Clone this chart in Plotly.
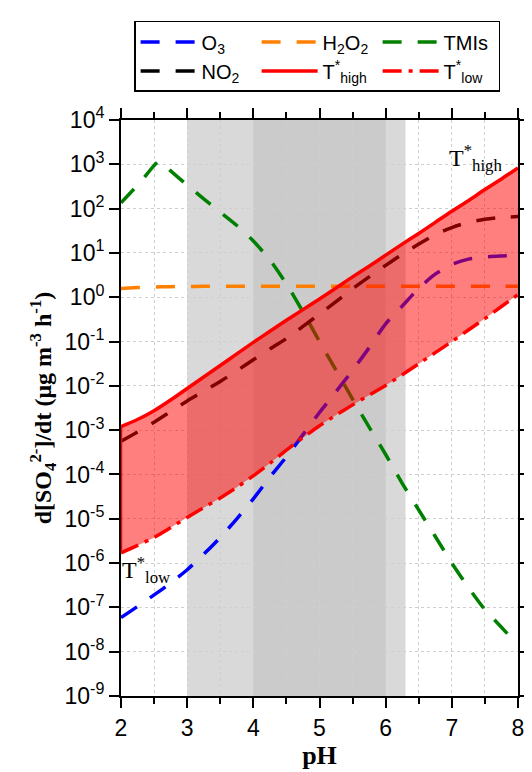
import plotly.graph_objects as go

ph = [2.0, 2.25, 2.5, 2.75, 3.0, 3.25, 3.5, 3.75, 4.0, 4.25, 4.5, 4.75, 5.0,
      5.25, 5.5, 5.75, 6.0, 6.25, 6.5, 6.75, 7.0, 7.25, 7.5, 7.75, 8.0]

o3 = [5.89e-8, 1.05e-7, 1.91e-7, 3.55e-7, 7.08e-7, 1.58e-6, 3.80e-6, 1.0e-5,
      2.82e-5, 8.71e-5, 2.51e-4, 7.94e-4, 2.51e-3, 7.41e-3, 2.24e-2, 7.24e-2,
      0.251, 0.631, 1.58, 3.31, 5.50, 7.24, 8.13, 8.51, 8.71]

h2o2 = [1.58, 1.65, 1.70, 1.73, 1.75, 1.76, 1.77, 1.77, 1.78, 1.78, 1.78, 1.78, 1.78,
        1.78, 1.78, 1.78, 1.78, 1.78, 1.78, 1.78, 1.78, 1.78, 1.78, 1.78, 1.78]

ph_tmi = [2.0, 2.3, 2.58, 2.75, 3.0, 3.25, 3.5, 3.75, 4.0, 4.25, 4.5, 4.75, 5.0,
          5.25, 5.5, 5.75, 6.0, 6.25, 6.5, 6.75, 7.0, 7.25, 7.5, 7.75, 8.0]
tmis = [135, 407, 1175, 708, 339, 166, 83.2, 41.7, 18.6, 6.92, 2.0, 0.468, 0.1,
        0.0224, 5.01e-3, 1.17e-3, 2.82e-4, 6.31e-5, 1.58e-5, 3.98e-6, 1.0e-6,
        2.82e-7, 8.91e-8, 3.55e-8, 1.41e-8]

no2 = [5.62e-4, 9.12e-4, 1.51e-3, 2.63e-3, 4.57e-3, 7.59e-3, 1.26e-2, 2.19e-2,
       3.89e-2, 6.76e-2, 0.117, 0.219, 0.417, 0.794, 1.55, 2.88, 5.25, 9.33,
       15.8, 25.7, 37.2, 49.0, 57.5, 63.1, 66.1]

t_high = [1.20e-3, 1.74e-3, 2.75e-3, 4.79e-3, 8.71e-3, 1.58e-2, 2.88e-2, 5.25e-2,
          9.55e-2, 0.170, 0.302, 0.525, 0.912, 1.62, 2.88, 5.01, 8.91, 15.8, 27.5,
          49.0, 87.1, 151, 269, 468, 832]

t_low = [1.70e-6, 2.51e-6, 3.80e-6, 6.31e-6, 1.07e-5, 1.78e-5, 2.95e-5, 5.13e-5,
         9.33e-5, 1.78e-4, 3.55e-4, 6.76e-4, 1.26e-3, 2.19e-3, 3.72e-3, 6.17e-3,
         1.02e-2, 1.78e-2, 3.16e-2, 5.62e-2, 0.1, 0.182, 0.331, 0.617, 1.15]

y_exps = list(range(-9, 5))
y_tickvals = [10.0 ** e for e in y_exps]
y_ticktext = ["10<sup>%d</sup>" % e for e in y_exps]

DASH = "19px,16px"
LW = 3.5
SM = 0.8

fig = go.Figure()
fig.add_trace(go.Scatter(x=ph, y=o3, mode="lines", name="O<sub>3</sub>",
                         line=dict(color="#0000FF", width=LW, dash=DASH, shape="spline", smoothing=SM)))
fig.add_trace(go.Scatter(x=ph, y=h2o2, mode="lines", name="H<sub>2</sub>O<sub>2</sub>",
                         line=dict(color="#FF8000", width=LW, dash=DASH, shape="spline", smoothing=SM)))
fig.add_trace(go.Scatter(x=ph_tmi, y=tmis, mode="lines", name="TMIs",
                         line=dict(color="#008000", width=LW, dash=DASH, shape="spline", smoothing=0.6)))
fig.add_trace(go.Scatter(x=ph, y=no2, mode="lines", name="NO<sub>2</sub>",
                         line=dict(color="#000000", width=LW, dash=DASH, shape="spline", smoothing=SM)))
# fill between T_low and T_high (drawn over the lines)
fig.add_trace(go.Scatter(x=ph, y=t_low, mode="lines", showlegend=False,
                         line=dict(color="rgba(0,0,0,0)", width=0, shape="spline", smoothing=SM),
                         hoverinfo="skip"))
fig.add_trace(go.Scatter(x=ph, y=t_high, mode="lines", showlegend=False, fill="tonexty",
                         fillcolor="rgba(255,0,0,0.5)",
                         line=dict(color="rgba(0,0,0,0)", width=0, shape="spline", smoothing=SM),
                         hoverinfo="skip"))
# left edge of the filled band
fig.add_trace(go.Scatter(x=[ph[0], ph[0]], y=[t_low[0], t_high[0]], mode="lines",
                         showlegend=False, hoverinfo="skip", cliponaxis=False,
                         line=dict(color="#FF0000", width=2.5)))
fig.add_trace(go.Scatter(x=ph, y=t_high, mode="lines", name="T<sup>*</sup><sub>high</sub>",
                         line=dict(color="#FF0000", width=LW, shape="spline", smoothing=SM)))
fig.add_trace(go.Scatter(x=ph, y=t_low, mode="lines", name="T<sup>*</sup><sub>low</sub>",
                         line=dict(color="#FF0000", width=LW, dash="19px,7px,4px,7px",
                                   shape="spline", smoothing=SM)))

fig.add_shape(type="rect", xref="x", yref="paper", x0=3, x1=6.3, y0=0, y1=1,
              fillcolor="#d9d9d9", line=dict(width=0), layer="below")
fig.add_shape(type="rect", xref="x", yref="paper", x0=4, x1=6, y0=0, y1=1,
              fillcolor="#cbcbcb", line=dict(width=0), layer="below")

fig.add_annotation(x=7.37, y=3.14, xref="x", yref="y", showarrow=False,
                   text="T<sup>*</sup><sub>high</sub>",
                   font=dict(family="Liberation Serif", size=24, color="black"))
fig.add_annotation(x=2.38, y=-6.16, xref="x", yref="y", showarrow=False,
                   text="T<sup>*</sup><sub>low</sub>",
                   font=dict(family="Liberation Serif", size=24, color="black"))

fig.update_layout(
    width=532, height=772,
    margin=dict(l=113, r=10, t=112, b=84),
    plot_bgcolor="white", paper_bgcolor="white",
    font=dict(family="Liberation Sans", size=22, color="black"),
    legend=dict(orientation="h", x=0.494, xanchor="center", y=1.172, yanchor="top",
                traceorder="normal",
                bordercolor="black", borderwidth=1.5, bgcolor="white",
                font=dict(family="Liberation Sans", size=20),
                entrywidth=50, itemwidth=56, tracegroupgap=0),
    xaxis=dict(range=[2, 8], dtick=1, tick0=2, showline=True, linecolor="black", linewidth=2,
               mirror="ticks", ticks="outside", ticklen=10, tickwidth=2, tickcolor="black",
               showgrid=True, gridcolor="#cfcfcf", gridwidth=1, griddash="dot",
               minor=dict(dtick=0.5, ticks="outside", ticklen=6, tickwidth=2, tickcolor="black",
                          showgrid=True, gridcolor="#cfcfcf", griddash="dot"),
               tickfont=dict(size=23), zeroline=False, layer="below traces",
               title=dict(text="<b>pH</b>", font=dict(family="Liberation Serif", size=26),
                          standoff=4)),
    yaxis=dict(type="log", range=[-9, 4], tickvals=y_tickvals, ticktext=y_ticktext,
               showline=True, linecolor="black", linewidth=2, mirror="ticks",
               ticks="outside", ticklen=10, tickwidth=2, tickcolor="black",
               showgrid=True, gridcolor="#cfcfcf", gridwidth=1, griddash="dot",
               tickfont=dict(size=23), zeroline=False, layer="below traces",
               title=dict(text="<b>d[SO<sub>4</sub><sup>2-</sup>]/dt (μg m<sup>-3</sup> h<sup>-1</sup>)</b>",
                          font=dict(family="Liberation Serif", size=24), standoff=6)),
)

fig.write_html("out.html")
